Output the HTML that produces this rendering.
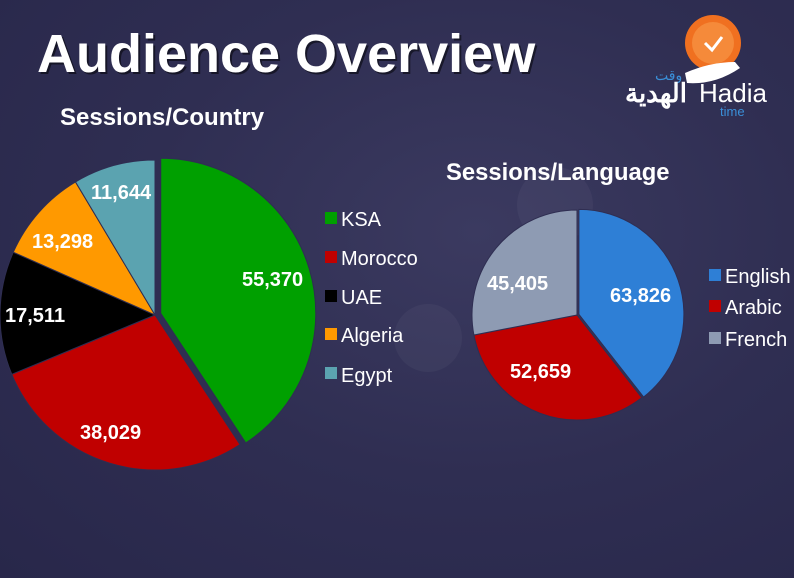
<!DOCTYPE html>
<html><head><meta charset="utf-8"><style>
body{margin:0;width:794px;height:578px;overflow:hidden;background:radial-gradient(ellipse at 60% 40%,#3b3a60 0%,#2f2e52 50%,#28274a 100%);font-family:"Liberation Sans",sans-serif;}
</style></head><body>
<svg width="794" height="578" xmlns="http://www.w3.org/2000/svg" style="position:absolute;left:0;top:0">
<circle cx="555" cy="205" r="38" fill="#ffffff" opacity="0.04"/>
<circle cx="428" cy="338" r="34" fill="#ffffff" opacity="0.04"/>
<text x="39" y="74" font-size="54" font-weight="bold" fill="#000" opacity="0.5">Audience Overview</text>
<text x="37" y="72" font-size="54" font-weight="bold" fill="#fff">Audience Overview</text>
<text x="60" y="125" font-size="24" font-weight="bold" fill="#fff">Sessions/Country</text>
<text x="446" y="180" font-size="23.8" font-weight="bold" fill="#fff">Sessions/Language</text>
<g id="p1"></g><g id="p2"></g>
<g font-size="20" fill="#fff">
<rect x="325" y="212" width="12" height="12" fill="#00a000"/><text x="341" y="226">KSA</text>
<rect x="325" y="251" width="12" height="12" fill="#c00000"/><text x="341" y="265">Morocco</text>
<rect x="325" y="290" width="12" height="12" fill="#000"/><text x="341" y="304">UAE</text>
<rect x="325" y="328" width="12" height="12" fill="#ff9900"/><text x="341" y="342">Algeria</text>
<rect x="325" y="367" width="12" height="12" fill="#5ba3b0"/><text x="341" y="382">Egypt</text>
<rect x="709" y="269" width="12" height="12" fill="#2e7fd6"/><text x="725" y="283">English</text>
<rect x="709" y="300" width="12" height="12" fill="#c00000"/><text x="725" y="314">Arabic</text>
<rect x="709" y="332" width="12" height="12" fill="#8e9bb3"/><text x="725" y="346">French</text>
</g>
<g font-size="20" font-weight="bold" fill="#fff">
<text x="242" y="286">55,370</text><text x="80" y="439">38,029</text><text x="5" y="322">17,511</text>
<text x="32" y="248">13,298</text><text x="91" y="199">11,644</text>
<text x="610" y="302">63,826</text><text x="510" y="378">52,659</text><text x="487" y="290">45,405</text>
</g>
<g transform="translate(625,10)">
<circle cx="88" cy="33" r="28" fill="#f07020"/><circle cx="88" cy="33" r="21" fill="#f58a3a"/>
<polyline points="80,33 87,40 97,27" fill="none" stroke="#fff" stroke-width="3"/>
<path d="M60,63 Q85,52 110,52 L115,58 Q90,75 62,73 Z" fill="#fff"/>
<text x="30" y="70" font-size="14" fill="#3a8fd8">وقت</text>
<text x="0" y="92" font-size="26" font-weight="bold" fill="#fff">الهدية</text>
<text x="74" y="92" font-size="26" fill="#fff">Hadia</text>
<text x="95" y="106" font-size="13" fill="#3a8fd8">time</text>
</g>
</svg>
<script>
function pie(id,cx,cy,r,vals,cols,ex){var t=vals.reduce((a,b)=>a+b),a=0,g=document.getElementById(id),s='';
vals.forEach(function(v,i){var a2=a+v/t*2*Math.PI,m=(a+a2)/2,ox=i==0?ex*Math.sin(m):0,oy=i==0?-ex*Math.cos(m):0;
var x1=cx+ox+r*Math.sin(a),y1=cy+oy-r*Math.cos(a),x2=cx+ox+r*Math.sin(a2),y2=cy+oy-r*Math.cos(a2);
s+='<path d="M'+(cx+ox)+','+(cy+oy)+' L'+x1+','+y1+' A'+r+','+r+' 0 '+(a2-a>Math.PI?1:0)+' 1 '+x2+','+y2+' Z" fill="'+cols[i]+'" stroke="#2f2e52" stroke-width="1"/>';a=a2;});
g.innerHTML=s;}
pie('p1',155,315,155,[55370,38029,17511,13298,11644],['#00a000','#c00000','#000000','#ff9900','#5ba3b0'],6);
pie('p2',577,315,105,[63826,52659,45405],['#2e7fd6','#c00000','#8e9bb3'],2);
</script>
</body></html>
